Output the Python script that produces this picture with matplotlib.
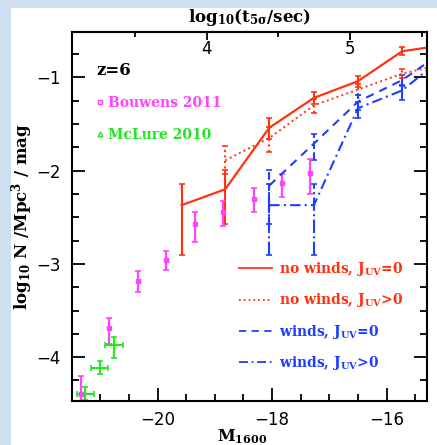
import numpy as np
import matplotlib
matplotlib.use("Agg")
import matplotlib.pyplot as plt
from matplotlib.lines import Line2D
from matplotlib.patches import Rectangle

plt.rcParams['mathtext.fontset'] = 'dejavuserif'

# simulation magnitude bins
M_sim = [-19.58, -18.82, -18.05, -17.27, -16.50, -15.73, -14.96]

# no winds, J_UV = 0
nw_j0 = [-2.37, -2.20, -1.54, -1.22, -1.04, -0.72, -0.65]
nw_j0_up = [0.23, 0.21, 0.10, 0.065, 0.06, 0.045, 0.04]
nw_j0_dn = [0.53, 0.37, 0.125, 0.07, 0.065, 0.045, 0.04]

# no winds, J_UV > 0
M_nwj = [-18.82, -18.05, -17.27, -16.50, -15.73, -14.96]
nw_j1 = [-1.89, -1.65, -1.30, -1.13, -0.96, -0.85]
nw_j1_up = [0.15, 0.12, 0.07, 0.06, 0.05, 0.04]
nw_j1_dn = [0.15, 0.15, 0.08, 0.06, 0.05, 0.04]

# winds
M_w = [-18.05, -17.27, -16.50, -15.73, -14.96]
w_j0 = [-2.16, -1.71, -1.26, -1.03, -0.70]
w_j0_up = [0.17, 0.10, 0.07, 0.055, 0.05]
w_j0_dn = [0.41, 0.18, 0.09, 0.06, 0.05]
w_j1 = [-2.37, -2.37, -1.33, -1.14, -0.76]
w_j1_up = [0.23, 0.23, 0.07, 0.06, 0.05]
w_j1_dn = [0.53, 0.53, 0.11, 0.10, 0.05]

# Bouwens 2011
M_b = [-21.33, -20.84, -20.34, -19.85, -19.34, -18.85, -18.32, -17.83, -17.34]
phi_b = [-4.40, -3.69, -3.18, -2.96, -2.57, -2.44, -2.30, -2.13, -2.02]
phi_b_up = [0.20, 0.11, 0.10, 0.10, 0.13, 0.11, 0.11, 0.09, 0.15]
phi_b_dn = [0.20, 0.17, 0.12, 0.11, 0.19, 0.15, 0.14, 0.15, 0.23]

# McLure 2010
M_m = [-21.26, -21.01, -20.76]
phi_m = [-4.39, -4.12, -3.87]
phi_m_up = [0.07, 0.08, 0.09]
phi_m_dn = [0.07, 0.06, 0.135]
M_m_err = [0.15, 0.15, 0.15]

sim_labels = [r'no winds, J$_{\mathbf{UV}}$=0', r'no winds, J$_{\mathbf{UV}}$>0',
              r'winds, J$_{\mathbf{UV}}$=0', r'winds, J$_{\mathbf{UV}}$>0']

red = '#ff3311'
blue = '#1f3fff'
mag = '#ff44ff'
green = '#22e622'

fig = plt.figure(figsize=(4.37, 4.45), dpi=100)
fig.patch.set_facecolor('#cfdff2')
fig.add_artist(Rectangle((11/437, 0), 1, 1 - 8/445, transform=fig.transFigure,
                         facecolor='white', edgecolor='none', zorder=0))
ax = fig.add_axes([71.7/437, 44/445, 355/437, 369.3/445])
ax.set_facecolor('white')

ebk = dict(capsize=2.5, elinewidth=1.5, capthick=1.2)
ax.errorbar(M_sim, nw_j0, yerr=[nw_j0_dn, nw_j0_up], color=red, lw=1.6, ls='-', **ebk)
e = ax.errorbar(M_nwj, nw_j1, yerr=[nw_j1_dn, nw_j1_up], color=red, lw=1.4, ls=':', **ebk)
e[2][0].set_linestyle(':')
e = ax.errorbar(M_w, w_j0, yerr=[w_j0_dn, w_j0_up], color=blue, lw=1.5,
                ls='--', dashes=(4, 3), **ebk)
e[2][0].set_linestyle('--')
e = ax.errorbar(M_w, w_j1, yerr=[w_j1_dn, w_j1_up], color=blue, lw=1.5,
                ls='-.', dashes=(5, 2, 1, 2), **ebk)
e[2][0].set_linestyle('-.')

ax.errorbar(M_b, phi_b, yerr=[phi_b_dn, phi_b_up], fmt='s', ms=3.5, color=mag,
            elinewidth=1.6, capsize=2.5, capthick=1.2)
ax.errorbar(M_m, phi_m, xerr=M_m_err, yerr=[phi_m_dn, phi_m_up], fmt='none',
            ecolor=green, elinewidth=1.6, capsize=2.5, capthick=1.2)

ax.set_xlim(-21.5, -15.3)
ax.set_ylim(-4.47, -0.51)
ax.set_xticks([-20, -18, -16])
ax.set_xticklabels(['\u221220', '\u221218', '\u221216'])
ax.set_xticks(np.arange(-21.5, -15.2, 0.5), minor=True)
ax.set_yticks([-4, -3, -2, -1])
ax.set_yticklabels(['\u22124', '\u22123', '\u22122', '\u22121'])
ax.set_yticks(np.arange(-4.25, -0.5, 0.25), minor=True)
ax.tick_params(which='both', direction='in', right=True, width=1.3, labelsize=12)
ax.tick_params(which='major', length=9.5)
ax.tick_params(which='minor', length=5)
ax.tick_params(axis='x', pad=7)
ax.tick_params(axis='y', pad=8)
for s in ax.spines.values():
    s.set_linewidth(1.5)

sec = ax.secondary_xaxis('top', functions=(lambda m: 0.4 * m + 11.656,
                                           lambda t: (t - 11.656) / 0.4))
sec.set_xticks([4, 5])
sec.set_xticks([3.5, 4.5, 5.5], minor=True)
sec.tick_params(which='both', direction='in', width=1.3, labelsize=12, pad=-19)
sec.tick_params(which='major', length=6)
sec.tick_params(which='minor', length=3.5)
sec.spines['top'].set_linewidth(1.5)
sec.set_xlabel(r'log$_{\mathbf{10}}$(t$_{\mathbf{5\sigma}}$/sec)', fontsize=12,
               family='DejaVu Serif', weight='bold', labelpad=7)

ax.set_xlabel(r'M$_{\mathbf{1600}}$', fontsize=11.5, family='DejaVu Serif',
              weight='bold')
ax.xaxis.set_label_coords(0.48, -0.071, transform=ax.transAxes)
ax.xaxis.label.set_va('top')
ax.set_ylabel(r'log$_{\mathbf{10}}$ N /Mpc$^{\mathbf{3}}$ / mag', fontsize=12,
              family='DejaVu Serif', weight='bold', labelpad=1)

ax.text(0.07, 0.895, 'z=6', transform=ax.transAxes, fontsize=12,
        family='DejaVu Serif', weight='bold', va='center')

obs = [Line2D([], [], ls='none', marker='s', mfc='none', mec=mag, ms=3.5, mew=1),
       Line2D([], [], ls='none', marker='^', mfc='none', mec=green, ms=3.5, mew=1)]
leg1 = ax.legend(obs, ['Bouwens 2011', 'McLure 2010'], loc='upper left',
                 bbox_to_anchor=(0.035, 0.86), frameon=False, handlelength=0.5,
                 handletextpad=0.3, labelspacing=1.3, labelcolor=[mag, green],
                 prop=dict(family='DejaVu Serif', weight='bold', size=10))
ax.add_artist(leg1)

sim = [Line2D([], [], color=red, lw=1.3, ls='-'),
       Line2D([], [], color=red, lw=1.3, ls=':'),
       Line2D([], [], color=blue, lw=1.3, ls='--', dashes=(4, 3)),
       Line2D([], [], color=blue, lw=1.3, ls='-.', dashes=(5, 2, 1, 2))]
leg2 = ax.legend(sim, sim_labels, loc='lower right', bbox_to_anchor=(0.969, 0.045),
                 frameon=False, handlelength=2.4, handletextpad=0.5,
                 labelspacing=0.95, labelcolor=[red, red, blue, blue],
                 prop=dict(family='DejaVu Serif', weight='bold', size=10))

plt.savefig('out.png', dpi=100, facecolor=fig.get_facecolor())
